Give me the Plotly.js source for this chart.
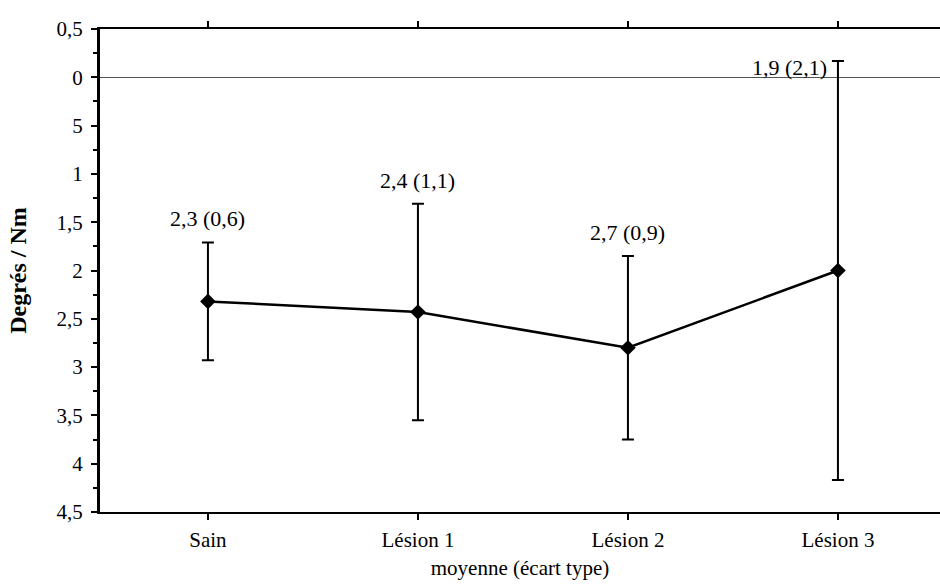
<!DOCTYPE html>
<html>
<head>
<meta charset="utf-8">
<script src="https://cdn.plot.ly/plotly-3.0.1.min.js"></script>
<style>html,body{margin:0;padding:0;background:#fff;}#chart{width:940px;height:587px;}</style>
</head>
<body>
<div id="chart"></div>
<script>
// Categories and values
var categories = ["Sain", "Lésion 1", "Lésion 2", "Lésion 3"];
var means = [2.32, 2.43, 2.80, 2.00];          // plotted mean positions
var errs = [0.61, 1.12, 0.95, 2.17];           // plotted half-lengths of error bars
var valueLabels = ["2,3 (0,6)", "2,4 (1,1)", "2,7 (0,9)", "1,9 (2,1)"];
var yTickVals = [-0.5, 0, 0.5, 1, 1.5, 2, 2.5, 3, 3.5, 4, 4.5];
var yTickText = ["0,5", "0", "5", "1", "1,5", "2", "2,5", "3", "3,5", "4", "4,5"];

var FONT = "Liberation Serif, Times New Roman, serif";

var trace = {
  type: "scatter",
  mode: "lines+markers",
  x: categories,
  y: means,
  line: {color: "#000", width: 2.5},
  marker: {symbol: "diamond", size: 12, color: "#000"},
  error_y: {type: "data", array: errs, visible: true, color: "#000", thickness: 2, width: 6},
  hoverinfo: "skip"
};

var annotations = categories.map(function (c, i) {
  var last = (i === categories.length - 1);
  return {
    x: c, y: means[i] - errs[i], xref: "x", yref: "y",
    text: valueLabels[i], showarrow: false,
    font: {family: FONT, size: 22, color: "#000"},
    xanchor: last ? "right" : "center",
    yanchor: last ? "middle" : "bottom",
    xshift: last ? -9 : 0,
    yshift: last ? -7 : 9
  };
});

var layout = {
  width: 940, height: 587,
  margin: {l: 100, r: 0, t: 29, b: 75, pad: 0},
  paper_bgcolor: "#fff", plot_bgcolor: "#fff",
  showlegend: false,
  font: {family: FONT, color: "#000"},
  xaxis: {
    type: "category",
    range: [-0.514, 3.486],
    showgrid: false, zeroline: false,
    showline: true, linecolor: "#000", linewidth: 2,
    mirror: "ticks",
    ticks: "outside", ticklen: 6, tickwidth: 2, tickcolor: "#000",
    tickfont: {family: FONT, size: 21, color: "#000"},
    ticklabelstandoff: 2,
    title: {text: "moyenne (écart type)", font: {family: FONT, size: 21, color: "#000"}, standoff: 9}
  },
  yaxis: {
    range: [4.5, -0.5],
    tickmode: "array", tickvals: yTickVals, ticktext: yTickText,
    showgrid: false,
    zeroline: true, zerolinecolor: "#555", zerolinewidth: 1,
    showline: true, linecolor: "#000", linewidth: 3,
    ticks: "outside", ticklen: 6, tickwidth: 2, tickcolor: "#000",
    minor: {tick0: 0, dtick: 0.25, ticks: "outside", ticklen: 4, tickwidth: 2, tickcolor: "#000"},
    tickfont: {family: FONT, size: 21, color: "#000"},
    ticklabelstandoff: 4,
    title: {text: "<b>Degrés / Nm</b>", font: {family: FONT, size: 24, color: "#000"}, standoff: 24}
  },
  annotations: annotations
};

Plotly.newPlot("chart", [trace], layout, {displayModeBar: false, staticPlot: true});
</script>
</body>
</html>
